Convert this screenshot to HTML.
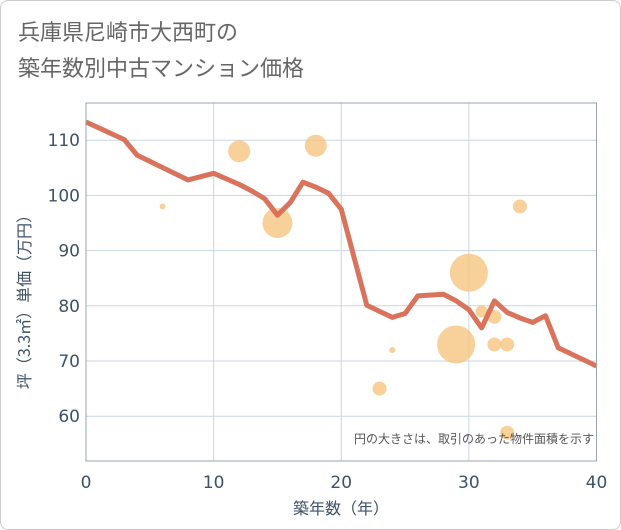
<!DOCTYPE html>
<html><head><meta charset="utf-8"><style>
body{margin:0;background:#fff;}
#c{position:relative;width:619px;height:528px;border:1px solid #ccc;border-radius:8px;overflow:hidden;font-family:"DejaVu Sans","Noto Sans CJK JP",sans-serif;}
</style></head><body>
<div id="c">
<svg id="s" width="621" height="530" style="position:absolute;left:-1px;top:-1px">
<text x="18" y="40" font-size="22" fill="#666" font-family="Noto Sans CJK JP, sans-serif">兵庫県尼崎市大西町の</text>
<text x="18" y="76" font-size="22" fill="#666" font-family="Noto Sans CJK JP, sans-serif">築年数別中古マンション価格</text>
<g id="grid"></g><g id="bub"></g><g id="ln"></g><g id="ax"></g>
<text x="594" y="443" font-size="12" fill="#555" text-anchor="end" font-family="Noto Sans CJK JP, sans-serif">円の大きさは、取引のあった物件面積を示す</text>
<text x="341" y="514" font-size="16" fill="#3d5168" text-anchor="middle" font-family="Noto Sans CJK JP, sans-serif">築年数（年）</text>
<text transform="translate(30,298) rotate(-90)" font-size="16" fill="#3d5168" text-anchor="middle" font-family="Noto Sans CJK JP, sans-serif">坪（3.3㎡）単価（万円）</text>
</svg></div>
<script>
const xTicks=[0,10,20,30,40];
const yTicks=[60,70,80,90,100,110];
const lineYears=[0,3,4,8,10,12,13,14,15,16,17,18,19,20,22,24,25,26,28,29,30,31,32,33,34,35,36,37,40];
const lineValues=[113.3,110.1,107.3,102.8,104,102,100.8,99.4,96.4,98.7,102.4,101.5,100.4,97.5,80.1,77.9,78.6,81.8,82.1,80.9,79.3,76,80.9,78.8,77.8,77,78.2,72.4,69.1];
const bubbleYears=[6,12,18,15,34,30,29,31,32,32,33,24,23,33];
const bubbleValues=[98,108,109,95,98,86,73,79,78,73,73,72,65,57];
const bubbleSizes=[3,11,11,15,7,19,19,6,7,7,7,3,7,7];
const L=86,R=596.5,T=103,B=461;
const x=v=>L+(v/40)*(R-L);
const y=v=>361-(v-70)*5.52;
const NS='http://www.w3.org/2000/svg';
function mk(p,t,a){const e=document.createElementNS(NS,t);for(const k in a)e.setAttribute(k,a[k]);document.getElementById(p).appendChild(e);return e;}
xTicks.forEach(t=>{
 if(t>0&&t<40){const g=mk('grid','line',{x1:x(t),x2:x(t),y1:T,y2:B,stroke:'#c9d6e3','stroke-width':1});
 }
 const l=mk('ax','text',{x:x(t),y:488,'font-size':17,fill:'#3d5168','text-anchor':'middle'});l.textContent=t;
 
});
yTicks.forEach(t=>{
 const g=mk('grid','line',{x1:L,x2:R,y1:y(t),y2:y(t),stroke:'#c9d6e3','stroke-width':1});
 
 const l=mk('ax','text',{x:80,y:y(t)+6,'font-size':17,fill:'#3d5168','text-anchor':'end'});l.textContent=t;
 
});
const fr=mk('ax','rect',{x:L,y:T,width:R-L,height:B-T,fill:'none',stroke:'#9aa5b0','stroke-width':1});

bubbleYears.forEach((v,i)=>{
 const c=mk('bub','circle',{cx:x(v),cy:y(bubbleValues[i]),r:bubbleSizes[i],fill:'#f5c57f','fill-opacity':0.8});
 
});
const p=mk('ln','polyline',{points:lineYears.map((v,i)=>x(v)+','+y(lineValues[i])).join(' '),fill:'none',stroke:'#d9735c','stroke-width':5,'stroke-linejoin':'round'});

</script>
</body></html>
